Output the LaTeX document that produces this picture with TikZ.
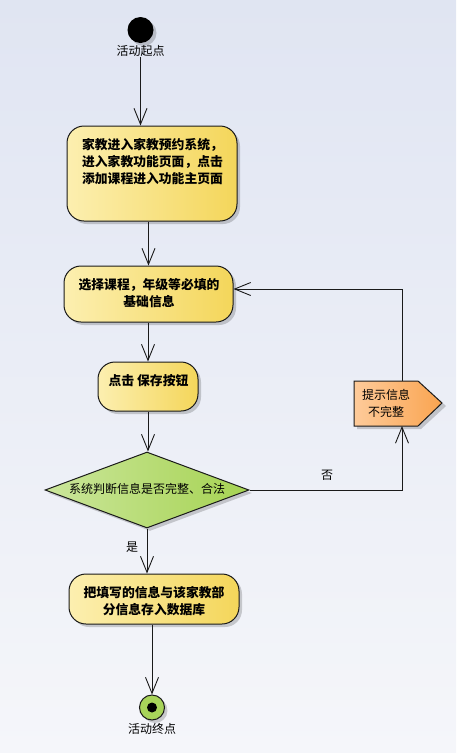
\documentclass[tikz,border=0pt]{standalone}
\usepackage{fontspec}
\setmainfont{Noto Sans CJK SC}
\usetikzlibrary{arrows.meta,shadows,shapes.geometric}
\definecolor{bgtop}{HTML}{E0E5F2}
\definecolor{bgbot}{HTML}{F5F6FA}
\definecolor{ylL}{HTML}{FCEFB0}
\definecolor{ylR}{HTML}{F4D65A}
\definecolor{grL}{HTML}{CBE69B}
\definecolor{grR}{HTML}{A6D353}
\definecolor{orL}{HTML}{FECB9A}
\definecolor{orR}{HTML}{F9A450}
\definecolor{ln}{HTML}{1A1A1A}
\definecolor{endg}{HTML}{A8D45A}
\begin{document}
\begin{tikzpicture}[x=1pt,y=-1pt,
  shd/.style={drop shadow={shadow xshift=3pt,shadow yshift=-3pt,fill=black,opacity=0.18}},
  actbox/.style={draw=ln,line width=1pt,rounded corners=17pt,left color=ylL,right color=ylR,shd,inner sep=0pt},
  btxt/.style={font=\fontsize{12.8pt}{17pt}\selectfont\bfseries,align=center,inner sep=0pt},
  ntxt/.style={font=\fontsize{12pt}{17pt}\selectfont,align=center,inner sep=0pt},
  arr/.style={draw=ln,line width=0.9pt,-{Straight Barb[length=16pt,width=13pt]}},
  plain/.style={draw=ln,line width=0.9pt}]
\useasboundingbox (0,0) rectangle (456,753);
\shade[top color=bgtop,bottom color=bgbot] (0,0) rectangle (456,753);

% start
\node[circle,fill=black,minimum size=26pt,inner sep=0pt,shd] (start) at (140.5,30) {};
\node[ntxt] (startl) at (140.5,51) {活动起点};

% boxes
\node[actbox,minimum width=170pt,minimum height=95pt] (box1) at (152,173.5) {};
\node[btxt] (t1) at (152.5,161.5) {家教进入家教预约系统，\\进入家教功能页面，点击\\添加课程进入功能主页面};

\node[actbox,minimum width=169pt,minimum height=56pt] (box2) at (148.5,294) {};
\node[btxt] (t2) at (149,293) {选择课程，年级等必填的\\基础信息};

\node[actbox,minimum width=100pt,minimum height=49pt] (box3) at (148,386.5) {};
\node[btxt] (t3) at (148.5,381) {点击 保存按钮};

\node[diamond,draw=ln,line width=1pt,left color=grL,right color=grR,minimum width=204pt,minimum height=76pt,inner sep=0pt,shd] (dia) at (147,490) {};
\node[ntxt] (dt) at (147,489) {系统判断信息是否完整、合法};

\node[actbox,minimum width=170pt,minimum height=50pt] (box4) at (154,599) {};
\node[btxt] (t4) at (154,601) {把填写的信息与该家教部\\分信息存入数据库};

% flag
\fill[black,opacity=0.18] (357,384) -- (421,384) -- (446,406) -- (421,429) -- (357,429) -- cycle;
\draw[ln,line width=1pt,left color=orL,right color=orR] (354,381) -- (418,381) -- (442,403) -- (418,426) -- (354,426) -- cycle;
\coordinate (flagt) at (402,381);
\coordinate (flagb) at (402,426);
\node[ntxt] (ft) at (386,403.5) {提示信息\\不完整};

% end
\node[circle,draw=ln,line width=1pt,fill=endg,minimum size=25pt,inner sep=0pt,shd] (endc) at (152,707.5) {};
\node[circle,fill=black,minimum size=10pt,inner sep=0pt] (endi) at (endc) {};
\node[ntxt] (endl) at (152,728.5) {活动终点};

% connectors
\draw[arr] (startl.south) -- (startl.south |- box1.north);
\draw[arr] (box1.south -| box2.north) -- (box2.north);
\draw[arr] (box2.south -| box3.north) -- (box3.north);
\draw[arr] (box3.south) -- (box3.south |- dia.north);
\draw[arr] (dia.south) -- (dia.south |- box4.north);
\draw[arr] (dia.east) -| (flagb);
\draw[arr] (flagt) |- ([yshift=5pt]box2.east);
\draw[arr] (box4.south -| endc.north) -- (endc.north);

% labels
\node[ntxt] (no) at (327,475) {否};
\node[ntxt] (yes) at (132,547) {是};
\end{tikzpicture}
\end{document}
